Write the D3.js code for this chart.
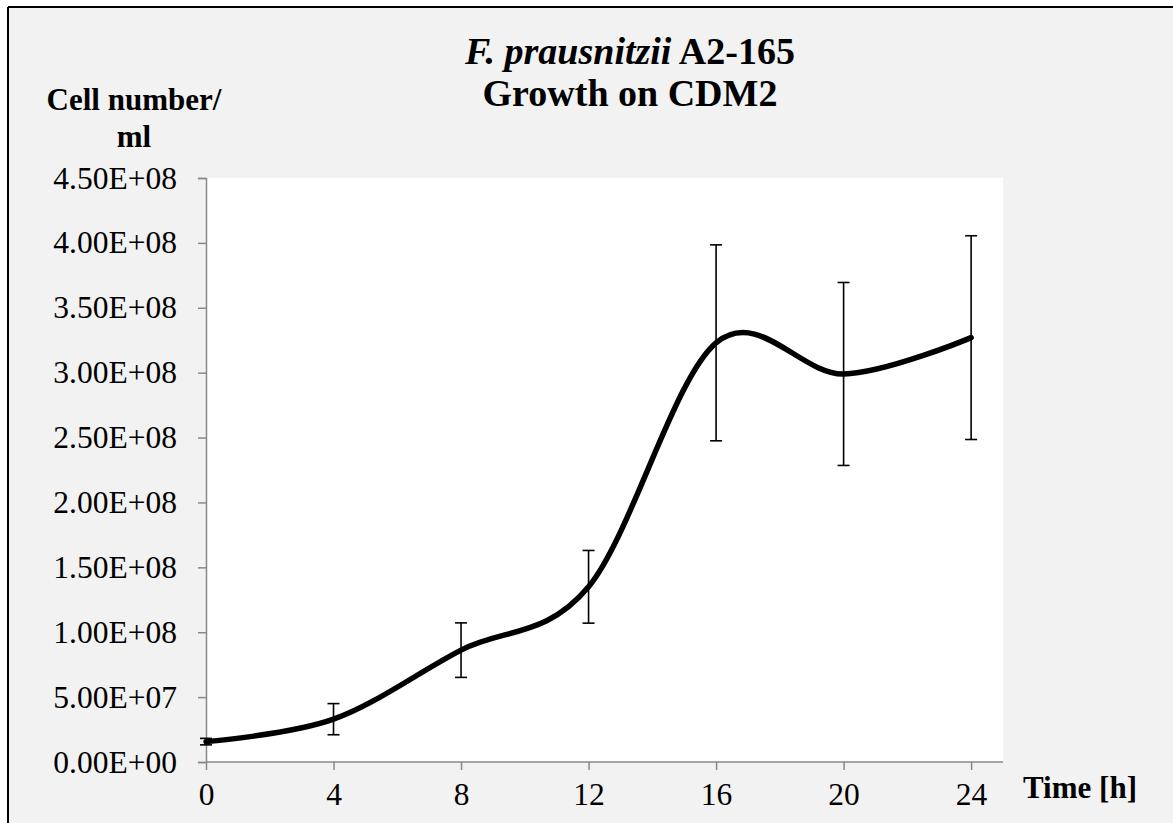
<!DOCTYPE html>
<html>
<head>
<meta charset="utf-8">
<script src="https://cdn.jsdelivr.net/npm/d3@7"></script>
<style>
  html, body { margin: 0; padding: 0; background: #ffffff; }
  svg { display: block; }
</style>
</head>
<body>
<svg id="chart" width="1173" height="823"></svg>
<script>
// ---- data ----
const times = [0, 4, 8, 12, 16, 20, 24];
const cellCounts = [1.57e7, 3.3e7, 8.62e7, 1.35e8, 3.23e8, 2.99e8, 3.27e8];
const errors = [2.5e6, 1.2e7, 2.1e7, 2.8e7, 7.55e7, 7.05e7, 7.85e7];
const xTicks = [0, 4, 8, 12, 16, 20, 24];
const yTicks = [0, 5e7, 1e8, 1.5e8, 2e8, 2.5e8, 3e8, 3.5e8, 4e8, 4.5e8];
const titleItalic = "F. prausnitzii";
const titleRest = " A2-165";
const titleLine2 = "Growth on CDM2";
const yLabelLines = ["Cell number/", "ml"];
const xLabel = "Time [h]";

const FONT = '"Liberation Serif", "Times New Roman", Times, serif';
const svg = d3.select("#chart");
const W = 1173, H = 823;

// chart background + border (left/top visible)
svg.append("rect").attr("x", 8).attr("y", 7).attr("width", W).attr("height", H)
  .attr("fill", "#f2f2f2");
svg.append("line").attr("x1", 8).attr("x2", W).attr("y1", 7).attr("y2", 7)
  .attr("stroke", "#000").attr("stroke-width", 2);
svg.append("line").attr("x1", 8).attr("x2", 8).attr("y1", 7).attr("y2", H)
  .attr("stroke", "#000").attr("stroke-width", 2);

const plot = { left: 206, right: 1003, top: 178, bottom: 762 };

const x = d3.scaleLinear().domain([0, 25]).range([plot.left, plot.right]);
const y = d3.scaleLinear().domain([0, 4.5e8]).range([plot.bottom, plot.top]);

// plot area
svg.append("rect")
  .attr("x", plot.left).attr("y", plot.top)
  .attr("width", plot.right - plot.left).attr("height", plot.bottom - plot.top)
  .attr("fill", "#ffffff");

function fmtE(v) {
  const s = d3.format(".2e")(v);
  const [m, e] = s.split("e");
  const sign = e[0] === "-" ? "-" : "+";
  const digits = e.replace(/[+-]/, "").padStart(2, "0");
  return m + "E" + sign + digits;
}

const axisColor = "#898989";

// y axis
const yAxis = svg.append("g")
  .attr("transform", `translate(${plot.left},0)`)
  .call(d3.axisLeft(y).tickValues(yTicks).tickFormat(fmtE).tickSize(8).tickPadding(21));
yAxis.select(".domain").attr("stroke", axisColor).attr("stroke-width", 1.5);
yAxis.selectAll(".tick line").attr("stroke", axisColor).attr("stroke-width", 1.5);
yAxis.selectAll(".tick text")
  .style("font-family", FONT)
  .style("font-size", "31.5px").attr("fill", "#000");

// x axis
const xAxis = svg.append("g")
  .attr("transform", `translate(0,${plot.bottom})`)
  .call(d3.axisBottom(x).tickValues(xTicks).tickFormat(d3.format("d")).tickSize(8).tickPadding(13));
xAxis.select(".domain").attr("stroke", axisColor).attr("stroke-width", 1.5)
  .attr("d", `M${plot.left},0H${plot.right}`);
xAxis.selectAll(".tick line").attr("stroke", axisColor).attr("stroke-width", 1.5);
xAxis.selectAll(".tick text")
  .style("font-family", FONT)
  .style("font-size", "31.5px").attr("fill", "#000");

// error bars
const data = times.map((t, i) => ({ t, v: cellCounts[i], e: errors[i] }));
const eb = svg.append("g").attr("stroke", "#000").attr("stroke-width", 1.6);
data.forEach(d => {
  const cx = x(d.t);
  eb.append("line").attr("x1", cx).attr("x2", cx).attr("y1", y(d.v - d.e)).attr("y2", y(d.v + d.e));
  eb.append("line").attr("x1", cx - 6).attr("x2", cx + 6).attr("y1", y(d.v + d.e)).attr("y2", y(d.v + d.e));
  eb.append("line").attr("x1", cx - 6).attr("x2", cx + 6).attr("y1", y(d.v - d.e)).attr("y2", y(d.v - d.e));
});

// smoothed line
const line = d3.line().x(d => x(d.t)).y(d => y(d.v)).curve(d3.curveCardinal.tension(0));
svg.append("path").datum(data).attr("d", line)
  .attr("fill", "none").attr("stroke", "#000").attr("stroke-width", 5.5)
  .attr("stroke-linecap", "round").attr("stroke-linejoin", "round");

// title
const title = svg.append("text").attr("x", 630).attr("y", 64).attr("text-anchor", "middle")
  .style("font-family", FONT).style("font-size", "38px").style("font-weight", "bold").attr("fill", "#000");
title.append("tspan").style("font-style", "italic").text(titleItalic);
title.append("tspan").text(titleRest);
svg.append("text").attr("x", 630).attr("y", 106).attr("text-anchor", "middle")
  .style("font-family", FONT).style("font-size", "38px").style("font-weight", "bold").attr("fill", "#000")
  .text(titleLine2);

// y label
yLabelLines.forEach((l, i) => {
  svg.append("text").attr("x", 134).attr("y", 110 + i * 37).attr("text-anchor", "middle")
    .style("font-family", FONT).style("font-size", "31px").style("font-weight", "bold").attr("fill", "#000")
    .text(l);
});

// x label
svg.append("text").attr("x", 1023).attr("y", 798)
  .style("font-family", FONT).style("font-size", "31px").style("font-weight", "bold").attr("fill", "#000")
  .text(xLabel);
</script>
</body>
</html>
